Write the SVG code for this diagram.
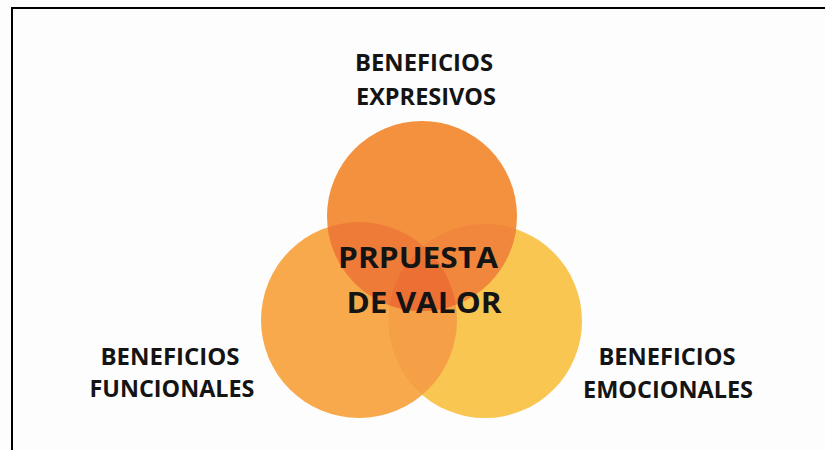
<svg xmlns="http://www.w3.org/2000/svg" width="825" height="450" viewBox="0 0 825 450">
  <defs>
    <style>
      .lbl { font-family: "Open Sans", "Liberation Sans", sans-serif; font-weight: 700; font-size: 23px; fill: #141414; text-anchor: middle; }
      .ctr { font-family: "Open Sans", "Liberation Sans", sans-serif; font-weight: 700; font-size: 28px; fill: #141414; text-anchor: middle; }
    </style>
    <clipPath id="clipTop"><circle cx="422" cy="216" r="95"/></clipPath>
    <clipPath id="clipLeft"><circle cx="359" cy="320" r="98"/></clipPath>
    <clipPath id="clipRight"><circle cx="485" cy="321" r="97"/></clipPath>
  </defs>
  <rect x="0" y="0" width="825" height="450" fill="#fdfdfd"/>
  <rect x="12" y="8" width="900" height="500" fill="none" stroke="#000" stroke-width="2"/>

  <g id="circles">
    <circle id="c-funcional" cx="359" cy="320" r="98" fill="#F7A94B"/>
    <circle id="c-emocional" cx="485" cy="321" r="97" fill="#F9C652"/>
    <circle id="c-expresivo" cx="422" cy="216" r="95" fill="#F3913F"/>
    <g clip-path="url(#clipLeft)">
      <circle cx="485" cy="321" r="97" fill="#F5A046"/>
      <circle cx="422" cy="216" r="95" fill="#EE7B38"/>
    </g>
    <g clip-path="url(#clipRight)">
      <circle cx="422" cy="216" r="95" fill="#F0873C"/>
    </g>
    <g clip-path="url(#clipTop)">
      <g clip-path="url(#clipLeft)">
        <circle cx="485" cy="321" r="97" fill="#EC7034"/>
      </g>
    </g>
  </g>

  <g id="node-expresivos">
    <text class="lbl" x="424" y="71" textLength="138" lengthAdjust="spacingAndGlyphs">BENEFICIOS</text>
    <text class="lbl" x="426" y="105" textLength="140" lengthAdjust="spacingAndGlyphs">EXPRESIVOS</text>
  </g>
  <g id="node-funcionales">
    <text class="lbl" x="170" y="365" textLength="139" lengthAdjust="spacingAndGlyphs">BENEFICIOS</text>
    <text class="lbl" x="172" y="397" textLength="165" lengthAdjust="spacingAndGlyphs">FUNCIONALES</text>
  </g>
  <g id="node-emocionales">
    <text class="lbl" x="667" y="365" textLength="137" lengthAdjust="spacingAndGlyphs">BENEFICIOS</text>
    <text class="lbl" x="668" y="398" textLength="170" lengthAdjust="spacingAndGlyphs">EMOCIONALES</text>
  </g>
  <g id="node-propuesta">
    <text class="ctr" x="418" y="268" textLength="160" lengthAdjust="spacingAndGlyphs">PRPUESTA</text>
    <text class="ctr" x="424" y="313" textLength="155" lengthAdjust="spacingAndGlyphs">DE VALOR</text>
  </g>
</svg>
